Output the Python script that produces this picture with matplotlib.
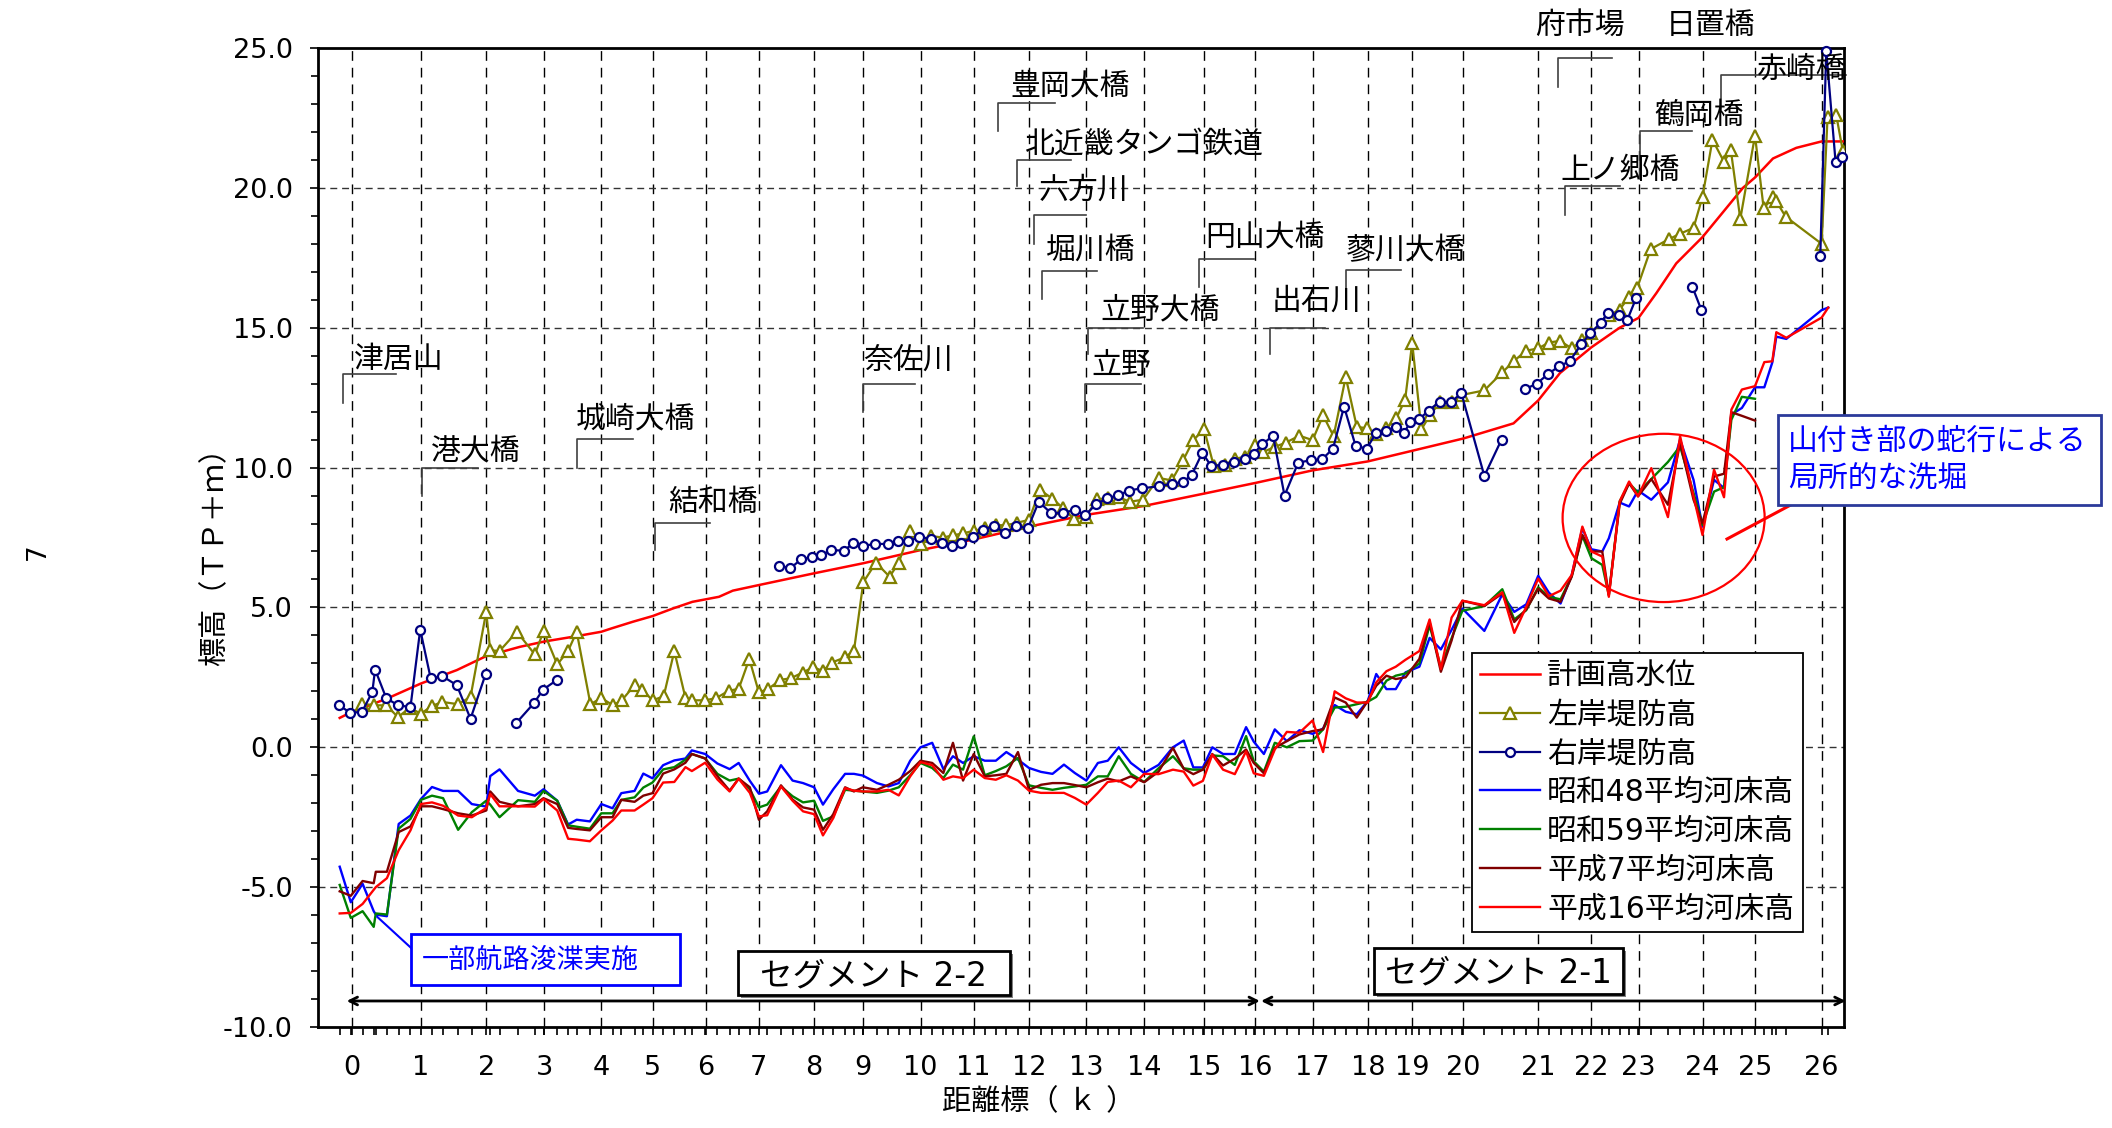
import numpy as np
import matplotlib
matplotlib.use("Agg")
import matplotlib.pyplot as plt
from matplotlib.patches import Ellipse, Rectangle
from matplotlib.lines import Line2D
from matplotlib.ticker import FixedLocator, MultipleLocator

plt.rcParams['font.family'] = ['DejaVu Sans', 'Noto Sans CJK JP']
plt.rcParams['lines.scale_dashes'] = False

nan = np.nan

# ---------------- data ----------------
KM_TICKS = list(range(27))
KM_TICK_LABELS = [str(k) for k in KM_TICKS]
Y_TICKS = [-10, -5, 0, 5, 10, 15, 20, 25]

SERIES_LABELS = ['計画高水位', '左岸堤防高', '右岸堤防高', '昭和48平均河床高',
                 '昭和59平均河床高', '平成7平均河床高', '平成16平均河床高']

# planned high water level
HWL_KM = [-0.17, 0.00, 0.51, 1.00, 1.55, 2.00, 2.58, 3.00, 3.56, 4.00,
          4.20, 4.62, 5.00, 5.38, 5.75, 6.25, 6.51, 7.00, 8.00, 9.00,
          10.00, 11.00, 12.00, 13.00, 14.00, 15.00, 16.00, 17.00, 18.00, 19.00,
          20.00, 20.67, 21.00, 21.41, 22.00, 22.60, 23.00, 23.28, 23.59, 24.00,
          24.39, 24.77, 25.00, 25.27, 25.62, 26.00, 26.33]
HWL_Z = [1.05, 1.26, 1.74, 2.28, 2.76, 3.26, 3.59, 3.78, 3.97, 4.13,
         4.25, 4.49, 4.69, 4.96, 5.20, 5.38, 5.60, 5.80, 6.22, 6.58,
         7.05, 7.43, 7.89, 8.31, 8.63, 9.07, 9.45, 9.90, 10.22, 10.60,
         11.04, 11.58, 12.40, 13.38, 14.30, 15.00, 15.35, 16.24, 17.30, 18.24,
         19.13, 20.00, 20.37, 21.05, 21.43, 21.66, 21.66]

# left bank levee
LB_KM = [0.15, 0.32, 0.50, 0.67, 0.84, 1.00, 1.17, 1.33, 1.57, 1.76,
         2.00, 2.07, 2.23, 2.53, 2.84, 2.99, 3.23, 3.42, 3.57, 3.81,
         4.00, 4.23, 4.40, 4.65, 4.80, 5.00, 5.21, 5.41, 5.62, 5.74,
         5.99, 6.20, 6.43, 6.62, 6.82, 7.00, 7.17, 7.39, 7.58, 7.79,
         7.98, 8.18, 8.36, 8.62, 8.81, 9.00, 9.22, 9.46, 9.62, 9.81,
         10.00, 10.20, 10.42, 10.62, 10.80, 11.00, 11.20, 11.40, 11.59, 11.79,
         12.00, 12.19, 12.41, 12.60, 12.79, 13.00, 13.18, 13.37, 13.56, 13.75,
         13.98, 14.24, 14.46, 14.65, 14.82, 15.00, 15.19, 15.41, 15.60, 15.80,
         16.00, 16.14, 16.34, 16.53, 16.77, 17.00, 17.19, 17.38, 17.60, 17.80,
         17.99, 18.18, 18.42, 18.64, 18.84, 19.00, 19.18, 19.35, 19.54, 19.77,
         19.98, 20.28, 20.52, 20.67, 20.84, 21.00, 21.20, 21.41, 21.63, 21.83,
         22.00, 22.37, 22.60, 22.80, 22.97, 23.19, 23.47, 23.65, 23.86, 24.00,
         24.19, 24.41, 24.54, 24.72, 25.00, 25.13, 25.27, 25.32, 25.46, 26.00,
         26.09, 26.22, 26.32]
LB_Z = [1.56, 1.50, 1.50, 1.08, 1.41, 1.20, 1.48, 1.62, 1.54, 1.80,
        4.84, 3.47, 3.44, 4.13, 3.32, 4.15, 2.96, 3.45, 4.13, 1.54,
        1.76, 1.50, 1.68, 2.22, 2.06, 1.68, 1.82, 3.44, 1.76, 1.68,
        1.68, 1.76, 2.02, 2.09, 3.16, 1.96, 2.09, 2.41, 2.47, 2.67,
        2.86, 2.73, 3.03, 3.21, 3.45, 5.90, 6.60, 6.10, 6.60, 7.74,
        7.27, 7.55, 7.50, 7.58, 7.65, 7.74, 7.83, 7.94, 7.94, 8.03,
        8.13, 9.20, 8.89, 8.54, 8.15, 8.25, 8.87, 8.90, 8.94, 8.78,
        8.85, 9.63, 9.54, 10.26, 10.98, 11.37, 10.05, 10.10, 10.32, 10.38,
        10.80, 10.56, 10.74, 10.89, 11.14, 10.98, 11.87, 11.12, 13.24, 11.46,
        11.40, 11.20, 11.40, 11.76, 12.42, 14.46, 11.37, 11.88, 12.33, 12.33,
        12.60, 12.76, 13.40, 13.80, 14.18, 14.26, 14.47, 14.53, 14.26, 14.56,
        14.82, 15.44, 15.65, 16.10, 16.41, 17.81, 18.16, 18.36, 18.57, 19.68,
        21.72, 20.93, 21.34, 18.89, 21.87, 19.27, 19.66, 19.52, 18.97, 18.00,
        22.55, 22.60, 21.30]

# right bank levee (NaN = gap)
RB_KM = [-0.18, -0.02, 0.15, 0.30, 0.34, 0.50, 0.67, 0.85, 0.99, 1.15,
         1.33, 1.55, 1.76, 1.99, nan, 2.52, 2.83, 2.98, 3.22, nan,
         7.36, 7.57, 7.77, 7.97, 8.15, 8.34, 8.60, 8.80, 8.99, 9.21,
         9.44, 9.60, 9.79, 9.98, 10.20, 10.40, 10.60, 10.77, 10.98, 11.17,
         11.37, 11.57, 11.77, 11.98, 12.17, 12.39, 12.60, 12.80, 12.98, 13.17,
         13.36, 13.55, 13.74, 13.96, 14.24, 14.46, 14.64, 14.79, 14.97, 15.14,
         15.36, 15.58, 15.80, 15.97, 16.12, 16.31, 16.51, 16.75, 16.97, 17.17,
         17.37, 17.57, 17.78, 17.98, 18.18, 18.42, 18.63, 18.81, 18.96, 19.14,
         19.32, 19.54, 19.75, 19.96, 20.28, 20.51, nan, 20.83, 20.98, 21.19,
         21.39, 21.59, 21.81, 21.98, 22.20, 22.35, 22.58, 22.76, 22.95, nan,
         23.84, 23.98, nan, 25.98, 26.07, 26.21, 26.30]
RB_Z = [1.50, 1.24, 1.26, 1.98, 2.78, 1.76, 1.50, 1.44, 4.21, 2.46,
        2.54, 2.22, 1.02, 2.61, nan, 0.87, 1.59, 2.06, 2.40, nan,
        6.49, 6.40, 6.73, 6.79, 6.87, 7.05, 7.03, 7.29, 7.20, 7.27,
        7.27, 7.36, 7.36, 7.53, 7.44, 7.29, 7.20, 7.29, 7.53, 7.77,
        7.92, 7.65, 7.91, 7.83, 8.78, 8.36, 8.39, 8.48, 8.30, 8.69,
        8.90, 9.01, 9.18, 9.26, 9.33, 9.42, 9.48, 9.72, 10.53, 10.05,
        10.10, 10.20, 10.29, 10.50, 10.83, 11.14, 9.00, 10.18, 10.26, 10.29,
        10.68, 12.18, 10.77, 10.68, 11.22, 11.32, 11.46, 11.22, 11.64, 11.73,
        12.04, 12.36, 12.33, 12.66, 9.70, 11.00, nan, 12.81, 13.00, 13.35,
        13.62, 13.80, 14.41, 14.80, 15.18, 15.53, 15.44, 15.27, 16.06, nan,
        16.47, 15.65, nan, 17.56, 24.90, 20.92, 21.10]

# average river bed profiles
BED_KM = [-0.17, -0.01, 0.16, 0.32, 0.35, 0.51, 0.68, 0.85, 1.00, 1.17,
          1.34, 1.57, 1.78, 2.00, 2.07, 2.23, 2.55, 2.84, 2.99, 3.23,
          3.42, 3.57, 3.80, 4.00, 4.22, 4.39, 4.65, 4.82, 5.00, 5.20,
          5.41, 5.62, 5.74, 5.99, 6.22, 6.45, 6.62, 6.83, 7.00, 7.15,
          7.40, 7.61, 7.80, 8.00, 8.18, 8.39, 8.63, 8.81, 8.99, 9.24,
          9.44, 9.62, 9.82, 10.00, 10.22, 10.43, 10.61, 10.80, 11.00, 11.20,
          11.40, 11.59, 11.80, 12.00, 12.21, 12.41, 12.61, 12.80, 13.00, 13.20,
          13.37, 13.56, 13.77, 14.00, 14.24, 14.48, 14.66, 14.82, 14.98, 15.16,
          15.37, 15.60, 15.82, 15.97, 16.15, 16.34, 16.55, 16.77, 17.00, 17.19,
          17.40, 17.60, 17.80, 18.00, 18.19, 18.42, 18.63, 18.85, 19.14, 19.34,
          19.56, 19.77, 19.98, 20.28, 20.52, 20.68, 20.84, 21.00, 21.20, 21.42,
          21.63, 21.83, 22.00, 22.23, 22.37, 22.60, 22.80, 22.99, 23.20, 23.46,
          23.65, 23.86, 24.00, 24.22, 24.41, 24.55, 24.75, 25.00, 25.14, 25.26,
          25.32, 25.47, 26.00, 26.10]
BED_S48 = [-4.27, -5.54, -4.88, -5.86, -5.98, -6.04, -2.74, -2.44, -1.85, -1.42,
           -1.56, -1.56, -2.03, -2.12, -1.03, -0.79, -1.56, -1.73, -1.50, -1.91,
           -2.76, -2.59, -2.65, -2.03, -2.18, -1.64, -1.56, -0.94, -1.11, -0.64,
           -0.47, -0.40, -0.11, -0.24, -0.58, -0.78, -0.56, -1.20, -1.66, -1.58,
           -0.64, -1.19, -1.28, -1.43, -2.05, -1.50, -0.95, -0.95, -1.01, -1.28,
           -1.40, -1.28, -0.48, 0.00, 0.16, -0.78, -0.32, -0.56, -0.32, -0.48,
           -0.48, -0.17, -0.44, -0.74, -0.88, -0.95, -0.62, -0.92, -1.19, -0.56,
           -0.48, 0.00, -0.56, -0.92, -0.63, 0.00, 0.24, -0.72, -0.72, 0.00,
           -0.24, -0.24, 0.72, 0.20, -0.24, 0.64, 0.22, 0.61, 0.48, 0.67,
           1.51, 1.27, 1.18, 1.66, 2.62, 2.08, 2.08, 2.68, 2.88, 3.91,
           3.50, 4.20, 4.96, 4.16, 5.47, 4.84, 5.11, 6.13, 5.53, 5.14,
           6.16, 7.83, 7.08, 7.00, 7.47, 8.75, 8.61, 9.18, 8.85, 9.47,
           11.00, 9.56, 7.89, 9.56, 9.27, 11.90, 12.13, 12.87, 12.87, 13.76,
           14.68, 14.60, 15.63, 15.72]
BED_S59 = [-4.92, -6.10, -5.86, -6.42, -5.94, -5.98, -2.91, -2.56, -1.88, -1.73,
           -1.82, -2.95, -2.32, -1.91, -2.05, -2.50, -1.89, -1.95, -1.56, -1.91,
           -2.79, -2.84, -2.91, -2.36, -2.36, -1.88, -1.79, -1.44, -1.26, -0.79,
           -0.71, -0.44, -0.24, -0.40, -0.95, -1.19, -1.12, -1.50, -2.15, -2.05,
           -1.40, -1.75, -1.97, -1.91, -2.63, -2.47, -1.52, -1.55, -1.58, -1.63,
           -1.55, -1.43, -1.00, -0.56, -0.74, -1.10, -0.62, -0.80, 0.39, -1.00,
           -0.85, -0.68, -0.38, -1.36, -1.45, -1.52, -1.45, -1.40, -1.34, -1.04,
           -1.04, -0.32, -0.95, -1.24, -0.75, -0.32, -0.75, -0.80, -0.80, -0.29,
           -0.32, -0.63, 0.40, -0.50, -0.87, 0.16, 0.00, 0.22, 0.24, 0.64,
           1.42, 1.45, 1.54, 1.63, 1.80, 2.38, 2.56, 2.64, 3.00, 4.36,
           2.86, 3.90, 4.88, 5.05, 5.65, 4.57, 4.90, 5.72, 5.38, 5.29,
           6.12, 7.56, 6.76, 6.52, 5.44, 8.79, 9.44, 9.11, 9.59, 10.20,
           10.76, 9.09, 7.95, 9.14, 9.30, 11.71, 12.53, 12.46, nan, nan,
           nan, nan, nan, nan]
BED_H7 = [-5.15, -5.31, -4.78, -4.86, -4.45, -4.45, -3.03, -2.83, -2.11, -2.11,
          -2.21, -2.36, -2.44, -2.26, -1.58, -1.95, -2.11, -2.03, -1.82, -2.03,
          -2.88, -2.92, -2.97, -2.50, -2.50, -1.88, -1.95, -1.73, -1.64, -0.94,
          -0.79, -0.55, -0.24, -0.40, -1.03, -1.55, -1.12, -1.43, -2.59, -2.29,
          -1.36, -1.87, -2.15, -2.23, -2.95, -2.39, -1.43, -1.58, -1.43, -1.52,
          -1.34, -1.16, -0.85, -0.48, -0.56, -0.92, 0.16, -1.19, -0.24, -1.04,
          -1.00, -0.95, -0.17, -1.52, -1.34, -1.28, -1.28, -1.35, -1.43, -1.25,
          -1.12, -1.22, -1.04, -1.25, -0.87, -0.02, -0.77, -0.96, -0.80, -0.24,
          -0.65, -0.41, -0.08, -0.56, -0.93, -0.02, 0.22, 0.46, 0.58, 0.64,
          1.78, 1.60, 1.06, 1.66, 2.20, 2.56, 2.44, 2.50, 3.16, 4.48,
          2.70, 3.82, 5.24, 5.05, 5.50, 4.48, 4.93, 5.67, 5.32, 5.20,
          6.10, 7.59, 7.00, 7.00, 5.44, 8.70, 9.44, 8.97, 9.59, 8.67,
          10.88, 8.85, 8.01, 9.68, 9.78, 11.98, 11.85, 11.68, nan, nan,
          nan, nan, nan, nan]
BED_H16 = [-5.94, -5.92, -5.60, -5.10, -5.00, -4.68, -3.68, -2.97, -2.03, -1.97,
           -2.09, -2.44, -2.50, -2.17, -1.67, -2.11, -2.11, -2.12, -1.85, -2.26,
           -3.27, -3.30, -3.36, -2.97, -2.62, -2.26, -2.26, -2.05, -1.82, -1.26,
           -1.24, -0.71, -0.85, -0.55, -1.15, -1.58, -1.12, -1.63, -2.47, -2.43,
           -1.40, -1.91, -2.29, -2.39, -3.15, -2.53, -1.46, -1.55, -1.58, -1.58,
           -1.52, -1.72, -1.04, -0.53, -0.64, -1.16, -1.04, -1.10, -0.80, -1.10,
           -1.16, -1.00, -1.19, -1.55, -1.63, -1.63, -1.63, -1.81, -2.05, -1.63,
           -1.24, -1.19, -1.43, -0.95, -0.96, -0.80, -0.87, -1.37, -1.20, -0.26,
           -0.80, -0.96, -0.14, -0.93, -1.02, -0.08, 0.55, 0.52, 0.96, -0.17,
           2.00, 1.75, 1.60, 1.60, 2.32, 2.72, 2.88, 3.13, 3.44, 4.57,
           2.80, 4.64, 5.24, 5.08, 5.54, 4.09, 5.02, 6.03, 5.40, 5.60,
           6.16, 7.89, 7.00, 6.82, 5.38, 8.79, 9.50, 8.97, 9.98, 8.23,
           11.12, 8.97, 7.59, 9.92, 8.94, 12.07, 12.79, 12.91, 13.77, 13.80,
           14.84, 14.64, 15.36, 15.72]

# landmark labels: (name, leader km, leader top, leader bottom, text km, text z, leader length px)
LANDMARKS = [
    ('津居山', -0.125, 13.33, 12.32, 0.03, 13.55, 53),
    ('港大橋', 1.02, 10.00, 8.97, 1.15, 10.30, 56),
    ('城崎大橋', 3.575, 11.03, 10.00, 3.55, 11.42, 56),
    ('結和橋', 5.04, 8.03, 7.04, 5.30, 8.45, 55),
    ('奈佐川', 9.00, 13.00, 12.00, 9.00, 13.55, 52),
    ('豊岡大橋', 11.44, 23.05, 22.05, 11.66, 23.35, 57),
    ('北近畿タンゴ鉄道', 11.79, 20.99, 20.05, 11.93, 21.27, 54),
    ('六方川', 12.08, 19.02, 17.99, 12.17, 19.60, 52),
    ('堀川橋', 12.23, 17.02, 16.03, 12.28, 17.47, 55),
    ('立野大橋', 13.03, 14.99, 14.06, 13.24, 15.32, 55),
    ('立野', 12.97, 13.00, 12.00, 13.08, 13.35, 56),
    ('円山大橋', 14.92, 17.47, 16.44, 15.02, 17.93, 55),
    ('出石川', 16.26, 14.99, 14.06, 16.28, 15.64, 55),
    ('蓼川大橋', 17.60, 17.06, 16.06, 17.60, 17.44, 55),
    ('府市場', 21.37, 24.65, 23.62, 20.96, 25.50, 54),
    ('日置橋', nan, nan, nan, 23.42, 25.50, 0),
    ('赤崎橋', 24.35, 24.05, 22.82, 25.02, 23.92, 125),
    ('鶴岡橋', 23.03, 22.02, 20.30, 23.24, 22.29, 52),
    ('上ノ郷橋', 21.50, 20.06, 19.04, 21.41, 20.31, 55),
]

# ---------------- layout ----------------
W, H = 2112, 1128
AX_L, AX_R, AX_T, AX_B = 318, 1844, 48, 1027
TICK_PX = [351.5, 420.9, 486.2, 544.1, 601.3, 652.5, 705.7, 758.9, 814.1, 863.3,
           920.5, 973.7, 1029.0, 1086.3, 1144.2, 1204.1, 1255.3, 1312.6, 1367.8,
           1412.2, 1463.4, 1538.2, 1591.4, 1638.5, 1702.5, 1755.0, 1821.6]
_km = np.array([-1.0] + KM_TICKS + [27.0], dtype=float)
_px = np.array([TICK_PX[0] - 69.4] + TICK_PX + [TICK_PX[-1] + 66.6])


def fwd(x):
    return np.interp(x, _km, _px)


def inv(p):
    return np.interp(p, _px, _km)


fig = plt.figure(figsize=(W / 100, H / 100), dpi=100)
ax = fig.add_axes([AX_L / W, 1 - AX_B / H, (AX_R - AX_L) / W, (AX_B - AX_T) / H])
ax.set_xscale('function', functions=(fwd, inv))
ax.set_xlim(float(inv(AX_L)), float(inv(AX_R)))
ax.set_ylim(-10, 25)

# grid
for k in KM_TICKS:
    ax.axvline(k, color='black', lw=1.0, dashes=(7, 5), zorder=1)
for yv in [-5, 0, 5, 10, 15, 20]:
    ax.axhline(yv, color='#333333', lw=1.0, dashes=(5, 3.5), zorder=1)

# series
C_S48, C_S59, C_H7, C_H16 = '#0000ff', '#008000', '#800000', '#ff0000'
h48, = ax.plot(BED_KM, BED_S48, color=C_S48, lw=1.7, zorder=3)
h59, = ax.plot(BED_KM, BED_S59, color=C_S59, lw=1.7, zorder=3)
h7, = ax.plot(BED_KM, BED_H7, color=C_H7, lw=1.7, zorder=3)
h16, = ax.plot(BED_KM, BED_H16, color=C_H16, lw=1.7, zorder=3)
hh, = ax.plot(HWL_KM, HWL_Z, color='#ff0000', lw=1.8, zorder=4)
hl, = ax.plot(LB_KM, LB_Z, color='#808000', lw=1.6, marker='^', ms=9,
              mfc='white', mec='#808000', mew=1.6, zorder=5)
hr, = ax.plot(RB_KM, RB_Z, color='#000080', lw=1.6, marker='o', ms=6.5,
              mfc='white', mec='#000080', mew=1.6, zorder=6, clip_on=False)

# ticks
ax.set_xticks(KM_TICKS)
ax.set_xticklabels(KM_TICK_LABELS, fontsize=19.5, family='DejaVu Sans')
ax.xaxis.set_minor_locator(FixedLocator(BED_KM))
ax.set_yticks(Y_TICKS)
ax.set_yticklabels([f'{v:.1f}' for v in Y_TICKS], fontsize=19.5, family='DejaVu Sans')
ax.yaxis.set_minor_locator(MultipleLocator(1))
ax.tick_params(axis='both', which='both', direction='out', top=False, right=False, width=1.2)
ax.tick_params(axis='x', which='major', length=6, pad=14)
ax.tick_params(axis='x', which='minor', length=6)
ax.tick_params(axis='y', which='major', length=6, pad=12)
ax.tick_params(axis='y', which='minor', length=5)
for s in ax.spines.values():
    s.set_linewidth(2)

# legend
leg = ax.legend([hh, hl, hr, h48, h59, h7, h16], SERIES_LABELS,
                loc='upper left', bbox_to_anchor=(0.756, 0.382), borderaxespad=0,
                fontsize=21.5, frameon=True, fancybox=False, edgecolor='black',
                framealpha=1, handlelength=2.0, handletextpad=0.25,
                labelspacing=0.33, borderpad=0.28, numpoints=1)
leg.get_frame().set_linewidth(1.3)
leg.set_zorder(10)

# landmark leaders and labels
LC = '#404040'
for name, lk, ltop, lbot, tk, tz, hlen in LANDMARKS:
    if not np.isnan(lk):
        kend = float(inv(fwd(lk) + hlen))
        ax.plot([lk, lk, kend], [lbot, ltop, ltop], color=LC, lw=1.2,
                zorder=2, clip_on=False)
    ax.text(tk, tz, name, fontsize=21.5, ha='left', va='baseline', color='black',
            zorder=9)

# segment arrows
arr = dict(arrowstyle='<->', lw=2, color='black', shrinkA=0, shrinkB=0, mutation_scale=14)
ax.annotate('', xy=(-0.07, -9.07), xytext=(16.08, -9.07), arrowprops=arr, zorder=8)
ax.annotate('', xy=(16.10, -9.07), xytext=(26.36, -9.07), arrowprops=arr,
            zorder=8, annotation_clip=False)


def axbox(x0, y0, x1, y1, ec, lw=2, shadow=True):
    if shadow:
        ax.add_patch(Rectangle((x0 + 0.002, y0 - 0.003), x1 - x0, y1 - y0,
                               transform=ax.transAxes, facecolor='#808080',
                               edgecolor='none', zorder=7))
    ax.add_patch(Rectangle((x0, y0), x1 - x0, y1 - y0, transform=ax.transAxes,
                           facecolor='white', edgecolor=ec, lw=lw, zorder=8))


axbox(0.2752, 0.0322, 0.4535, 0.0776, 'black')
ax.text(0.3643, 0.052, 'セグメント 2-2', transform=ax.transAxes, fontsize=23.5,
        ha='center', va='center', zorder=9)
axbox(0.692, 0.0337, 0.855, 0.0807, 'black')
ax.text(0.7735, 0.055, 'セグメント 2-1', transform=ax.transAxes, fontsize=23.5,
        ha='center', va='center', zorder=9)

# dredging note
ax.plot([0.37, 0.857], [-6.06, -7.17], color='#0000ff', lw=1.5, zorder=7)
axbox(0.0609, 0.0433, 0.2372, 0.0955, '#0000ff', lw=2, shadow=False)
ax.text(0.068, 0.068, '一部航路浚渫実施', transform=ax.transAxes, fontsize=19.5,
        color='#0000ff', ha='left', va='center', zorder=9)

# local scour note
ax.add_patch(Ellipse((0.8818, 0.520), 0.1324, 0.1719, transform=ax.transAxes,
                     fill=False, edgecolor='#ff0000', lw=1.6, zorder=7))
fig.add_artist(Line2D([1727 / W, 1800 / W], [1 - 539 / H, 1 - 500 / H],
                      transform=fig.transFigure, color='#ff0000', lw=2.2, zorder=7))
fig.add_artist(Rectangle((1778 / W, 1 - 505 / H), 323 / W, 90 / H,
                         transform=fig.transFigure, facecolor='white',
                         edgecolor='#2b3a9a', lw=2, zorder=8))
fig.text(1788 / W, 1 - 441 / H, '山付き部の蛇行による', fontsize=21.5,
         color='#0000ff', ha='left', va='center', zorder=9)
fig.text(1788 / W, 1 - 478 / H, '局所的な洗堀', fontsize=21.5,
         color='#0000ff', ha='left', va='center', zorder=9)

# axis titles
fig.text(215 / W, 1 - 550 / H, '標高（ＴＰ＋ｍ）', rotation=90, fontsize=21,
         ha='center', va='center')
fig.text(1039 / W, 1 - 1102 / H, '距離標（ ｋ ）', fontsize=21, ha='center', va='center')
fig.text(38 / W, 1 - 552 / H, '7', rotation=90, fontsize=19, ha='center', va='center')

fig.savefig('out.png', dpi=100)
